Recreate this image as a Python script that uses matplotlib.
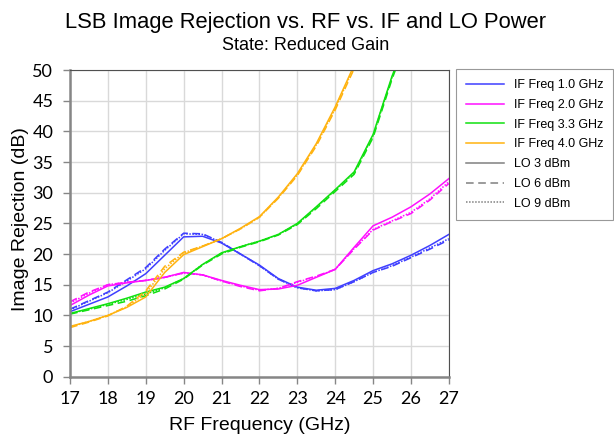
import matplotlib
matplotlib.use("Agg")
import matplotlib.pyplot as plt
import numpy as np
from matplotlib.lines import Line2D

plt.rcParams["font.family"] = ["Liberation Sans", "DejaVu Sans"]

# ── Data ────────────────────────────────────
rf_ghz = [17, 17.5, 18, 18.5, 19, 19.5, 20, 20.5, 21, 21.5, 22,
          22.5, 23, 23.5, 24, 24.5, 25, 25.5, 26, 26.5, 27]

nan = np.nan

if1_lo3 = [10.6, 11.8, 13.0, 14.8, 16.8, 19.8, 22.8, 22.9, 21.8, 20.0, 18.2,
           16.0, 14.6, 14.1, 14.4, 15.7, 17.3, 18.4, 19.8, 21.4, 23.2]
if1_lo6 = [11.0, 12.4, 13.8, 15.8, 17.8, 20.8, 23.4, 23.3, 21.9, 20.0, 18.1,
           15.9, 14.5, 14.0, 14.2, 15.5, 17.0, 18.0, 19.4, 20.8, 22.3]
if1_lo9 = [10.9, 12.3, 13.7, 15.6, 17.6, 20.6, 23.3, 23.2, 21.9, 20.0, 18.1,
           15.9, 14.5, 14.0, 14.2, 15.5, 17.0, 18.1, 19.5, 21.0, 22.5]

if2_lo3 = [11.6, 13.3, 14.8, 15.3, 15.7, 16.2, 17.0, 16.6, 15.7, 14.9, 14.2,
           14.3, 14.9, 16.2, 17.5, 21.1, 24.6, 26.0, 27.7, 29.8, 32.3]
if2_lo6 = [12.2, 13.8, 15.0, 15.4, 15.7, 16.2, 16.9, 16.6, 15.6, 14.7, 14.0,
           14.4, 15.5, 16.4, 17.5, 20.8, 23.9, 25.3, 26.6, 28.8, 31.5]
if2_lo9 = [12.0, 13.6, 15.0, 15.4, 15.7, 16.2, 16.9, 16.6, 15.6, 14.8, 14.1,
           14.4, 15.4, 16.3, 17.5, 20.9, 24.0, 25.4, 26.8, 29.0, 31.8]

if3_lo3 = [10.3, 11.1, 11.9, 12.8, 13.8, 14.6, 16.0, 18.3, 20.2, 21.2, 22.1,
           23.2, 25.0, 27.7, 30.5, 33.4, 39.5, 49.0, 57.0, nan, nan]
if3_lo6 = [10.2, 10.9, 11.6, 12.3, 13.2, 14.3, 15.9, 18.2, 20.0, 21.1, 22.0,
           23.1, 24.8, 27.4, 30.2, 33.0, 39.0, 48.5, 57.0, nan, nan]
if3_lo9 = [10.3, 11.0, 11.8, 12.6, 13.5, 14.5, 16.0, 18.3, 20.1, 21.2, 22.1,
           23.2, 24.9, 27.6, 30.4, 33.2, 39.3, 48.8, 57.0, nan, nan]

if4_lo3 = [8.2, 9.0, 10.0, 11.3, 13.0, 17.0, 19.9, 21.2, 22.5, 24.2, 26.1,
           29.3, 33.1, 38.0, 44.0, 50.8, 58.0, nan, nan, nan, nan]
if4_lo6 = [8.0, 8.9, 9.9, 11.5, 14.0, 18.0, 20.3, 21.3, 22.5, 24.1, 26.0,
           29.1, 32.8, 37.6, 43.5, 50.2, 57.0, nan, nan, nan, nan]
if4_lo9 = [8.1, 9.0, 10.0, 11.4, 13.6, 17.6, 20.2, 21.3, 22.5, 24.1, 26.0,
           29.2, 32.9, 37.8, 43.7, 50.5, 57.0, nan, nan, nan, nan]

if_labels = ["IF Freq 1.0 GHz", "IF Freq 2.0 GHz", "IF Freq 3.3 GHz", "IF Freq 4.0 GHz"]
lo_labels = ["LO 3 dBm", "LO 6 dBm", "LO 9 dBm"]

series = [
    [if1_lo3, if1_lo6, if1_lo9],
    [if2_lo3, if2_lo6, if2_lo9],
    [if3_lo3, if3_lo6, if3_lo9],
    [if4_lo3, if4_lo6, if4_lo9],
]

# ── Styles ──────────────────────────────────
_COLORS = ["#3f3fff", "#ff10ff", "#10e010", "#ffb310"]
_STYLES = ["-", (0, (5, 3)), (0, (1, 1))]
_GRID   = "#d9d9d9"
_SPINE  = "#868686"
_TICKFONT = ["Lato", "DejaVu Sans"]

fig = plt.figure(figsize=(6.14, 4.38), dpi=100)
ax = fig.add_axes([0.114, 0.140, 0.617, 0.700])

for color, curves in zip(_COLORS, series):
    for ls, vals in zip(_STYLES, curves):
        ax.plot(rf_ghz, vals, color=color, ls=ls, lw=1.1)

ax.set_xlim(17, 27)
ax.set_ylim(0, 50)
ax.set_xticks(np.arange(17, 28, 1))
ax.set_yticks(np.arange(0, 51, 5))
ax.grid(True, color=_GRID, lw=1)
ax.set_axisbelow(True)
ax.tick_params(colors="black", length=5, color=_SPINE, width=1)
ax.tick_params(axis="x", pad=5)
ax.tick_params(axis="y", pad=7)
for lbl in ax.get_xticklabels() + ax.get_yticklabels():
    lbl.set_fontfamily(_TICKFONT)
    lbl.set_fontsize(13)

for side in ["left", "bottom"]:
    ax.spines[side].set_color(_SPINE)
    ax.spines[side].set_linewidth(1.8)
for side in ["top", "right"]:
    ax.spines[side].set_color("#505050")
    ax.spines[side].set_linewidth(0.8)

ax.set_xlabel("RF Frequency (GHz)", fontsize=14)
ax.set_ylabel("Image Rejection (dB)", fontsize=14)
ax.xaxis.set_label_coords(0.5, -0.132)
ax.yaxis.set_label_coords(-0.107, 0.515)

fig.text(0.497, 0.9475, "LSB Image Rejection vs. RF vs. IF and LO Power",
         ha="center", va="center", fontsize=15.8)
fig.text(0.498, 0.896, "State: Reduced Gain", ha="center", va="center", fontsize=13)

# Legend: IF colours, then LO line styles
handles = [Line2D([], [], color=c, lw=1.1) for c in _COLORS]
handles += [Line2D([], [], color="#808080", lw=1.1, ls=s) for s in _STYLES]
leg = fig.legend(handles, if_labels + lo_labels,
                 loc="upper left", bbox_to_anchor=(0.743, 0.842),
                 fontsize=9, frameon=True, fancybox=False,
                 handlelength=3.05, handletextpad=0.75, labelspacing=0.62,
                 borderpad=0.8, borderaxespad=0)
leg.get_frame().set_edgecolor("#808080")
leg.get_frame().set_linewidth(0.8)

fig.savefig("out.png", dpi=100)
